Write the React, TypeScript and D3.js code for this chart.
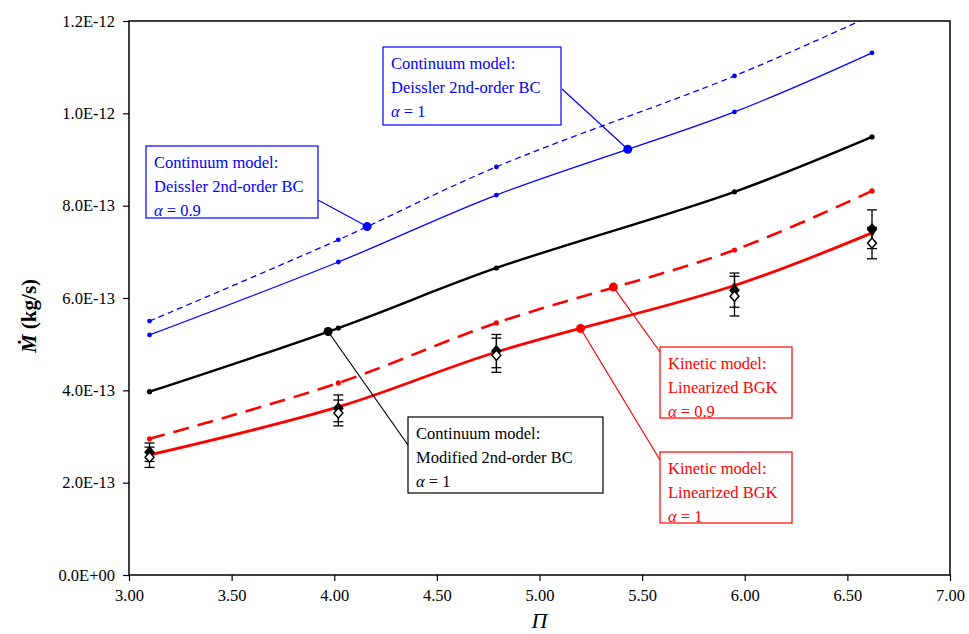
import React from 'react';
import * as d3 from 'd3';

// pressure ratio (x) for all series
const piValues = [3.1, 4.02, 4.79, 5.95, 6.62];

// mass flow rate, in units of 1e-13 kg/s
const deissler1 = [5.2, 6.78, 8.23, 10.03, 11.31];
const deissler09 = [5.5, 7.26, 8.84, 10.81, 12.12];
const modified1 = [3.97, 5.35, 6.65, 8.3, 9.49];
const kinetic09 = [2.95, 4.16, 5.46, 7.04, 8.32];
const kinetic1 = [2.6, 3.64, 4.83, 6.27, 7.41];

// experimental points with error bars
const expFilled = [2.66, 3.61, 4.85, 6.17, 7.49];
const expFilledErr = [0.2, 0.29, 0.36, 0.37, 0.42];
const expOpen = [2.55, 3.51, 4.76, 6.04, 7.19];
const expOpenErr = [0.22, 0.28, 0.37, 0.43, 0.34];

const xTicks = [3.0, 3.5, 4.0, 4.5, 5.0, 5.5, 6.0, 6.5, 7.0];
const yTicks = [0, 2, 4, 6, 8, 10, 12];
const yTickLabels = ['0.0E+00', '2.0E-13', '4.0E-13', '6.0E-13', '8.0E-13', '1.0E-12', '1.2E-12'];

const W = 969;
const H = 634;
const margin = { top: 21, right: 19, bottom: 59, left: 129 };

const serif = '"Liberation Serif", "DejaVu Serif", serif';

const App = () => {
  const ref = React.useRef<SVGSVGElement>(null);

  React.useEffect(() => {
    const svg = d3.select(ref.current);
    svg.selectAll('*').remove();

    const x = d3.scaleLinear().domain([3, 7]).range([margin.left, W - margin.right]);
    const y = d3.scaleLinear().domain([0, 12]).range([H - margin.bottom, margin.top]);

    svg.append('defs').append('clipPath').attr('id', 'plot-clip')
      .append('rect')
      .attr('x', margin.left).attr('y', margin.top)
      .attr('width', W - margin.left - margin.right)
      .attr('height', H - margin.top - margin.bottom);

    // axes
    const xAxis = svg.append('g')
      .attr('transform', `translate(0,${H - margin.bottom})`)
      .call(d3.axisBottom(x).tickValues(xTicks).tickSize(6).tickFormat(d3.format('.2f')));
    xAxis.selectAll('text').attr('font-family', serif).attr('font-size', 16.5).attr('fill', '#000').attr('dy', '1.05em');
    const yAxis = svg.append('g')
      .attr('transform', `translate(${margin.left},0)`)
      .call(d3.axisLeft(y).tickValues(yTicks).tickSize(6).tickFormat((d, i) => yTickLabels[i]));
    yAxis.selectAll('text').attr('font-family', serif).attr('font-size', 16.5).attr('fill', '#000').attr('x', -14);
    svg.selectAll('.domain').remove();
    svg.selectAll('.tick line').attr('stroke', '#000').attr('stroke-width', 1.2);

    svg.append('rect')
      .attr('x', margin.left).attr('y', margin.top)
      .attr('width', W - margin.left - margin.right)
      .attr('height', H - margin.top - margin.bottom)
      .attr('fill', 'none').attr('stroke', '#000').attr('stroke-width', 1.5);

    // axis titles
    svg.append('text')
      .attr('x', x(5)).attr('y', 628)
      .attr('text-anchor', 'middle')
      .attr('font-family', serif).attr('font-style', 'italic').attr('font-size', 22)
      .text('Π');

    const yTitle = svg.append('text')
      .attr('transform', 'translate(36,316) rotate(-90)')
      .attr('text-anchor', 'middle')
      .attr('font-family', serif).attr('font-weight', 'bold').attr('font-size', 21);
    yTitle.append('tspan').attr('font-style', 'italic').text('Ṁ');
    yTitle.append('tspan').text(' (kg/s)');

    const plot = svg.append('g').attr('clip-path', 'url(#plot-clip)');

    const series = [
      { vals: deissler09, color: '#0000ff', width: 1.3, dash: '6,4', r: 2.4 },
      { vals: deissler1, color: '#0000ff', width: 1.3, dash: null, r: 2.4 },
      { vals: modified1, color: '#000000', width: 2.4, dash: null, r: 2.6 },
      { vals: kinetic09, color: '#ff0000', width: 2.6, dash: '16,9', r: 2.6 },
      { vals: kinetic1, color: '#ff0000', width: 2.8, dash: null, r: 2.6 },
    ];

    const line = d3.line<[number, number]>()
      .x(d => x(d[0]))
      .y(d => y(d[1]))
      .curve(d3.curveCatmullRom);

    series.forEach(s => {
      const pts = piValues.map((p, i) => [p, s.vals[i]] as [number, number]);
      plot.append('path')
        .attr('d', line(pts))
        .attr('fill', 'none')
        .attr('stroke', s.color)
        .attr('stroke-width', s.width)
        .attr('stroke-dasharray', s.dash);
      plot.selectAll(null)
        .data(pts.filter(d => d[1] <= 12))
        .enter().append('circle')
        .attr('cx', d => x(d[0]))
        .attr('cy', d => y(d[1]))
        .attr('r', s.r)
        .attr('fill', s.color);
    });

    // experimental data with error bars
    const drawExp = (vals: number[], errs: number[], filled: boolean) => {
      const g = svg.append('g');
      piValues.forEach((p, i) => {
        const cx = x(p);
        const y0 = y(vals[i] - errs[i]);
        const y1 = y(vals[i] + errs[i]);
        g.append('line').attr('x1', cx).attr('x2', cx).attr('y1', y0).attr('y2', y1)
          .attr('stroke', '#000').attr('stroke-width', 1.3);
        [y0, y1].forEach(yy => {
          g.append('line').attr('x1', cx - 5).attr('x2', cx + 5).attr('y1', yy).attr('y2', yy)
            .attr('stroke', '#000').attr('stroke-width', 1.3);
        });
      });
      g.selectAll(null)
        .data(piValues.map((p, i) => [p, vals[i]]))
        .enter().append('path')
        .attr('d', d3.symbol(d3.symbolDiamond2, 50)() as string)
        .attr('transform', d => `translate(${x(d[0])},${y(d[1])}) scale(1,1.15)`)
        .attr('fill', filled ? '#000' : '#fff')
        .attr('stroke', '#000')
        .attr('stroke-width', 1.4);
    };
    drawExp(expFilled, expFilledErr, true);
    drawExp(expOpen, expOpenErr, false);

    // callouts: anchor on a curve, box with text
    const interp = (vals: number[], p: number) => {
      const i = d3.bisectRight(piValues, p) - 1;
      const t = (p - piValues[i]) / (piValues[i + 1] - piValues[i]);
      return vals[i] + t * (vals[i + 1] - vals[i]);
    };

    const callouts = [
      { vals: deissler1, pi: 5.43, color: '#0000ff', box: [383, 47, 178, 78], end: [562, 89], lines: ['Continuum model:', 'Deissler 2nd-order BC', 'α = 1'] },
      { vals: deissler09, pi: 4.16, color: '#0000ff', box: [146, 146, 172, 72], end: [318, 200], lines: ['Continuum model:', 'Deissler 2nd-order BC', 'α = 0.9'] },
      { vals: modified1, pi: 3.97, color: '#000000', box: [408, 417, 195, 76], end: [408, 445], lines: ['Continuum model:', 'Modified 2nd-order BC', 'α = 1'] },
      { vals: kinetic09, pi: 5.36, color: '#ff0000', box: [660, 347, 132, 71], end: [660, 352], lines: ['Kinetic model:', 'Linearized BGK', 'α = 0.9'] },
      { vals: kinetic1, pi: 5.2, color: '#ff0000', box: [660, 452, 132, 71], end: [660, 460], lines: ['Kinetic model:', 'Linearized BGK', 'α = 1'] },
    ];

    callouts.forEach(c => {
      const ax = x(c.pi);
      const ay = y(interp(c.vals, c.pi));
      const [bx, by, bw, bh] = c.box;
      svg.append('rect')
        .attr('x', bx).attr('y', by).attr('width', bw).attr('height', bh)
        .attr('fill', '#fff').attr('stroke', c.color).attr('stroke-width', 1.2);
      svg.append('line')
        .attr('x1', ax).attr('y1', ay).attr('x2', c.end[0]).attr('y2', c.end[1])
        .attr('stroke', c.color).attr('stroke-width', 1.2);
      svg.append('circle').attr('cx', ax).attr('cy', ay).attr('r', 4.5).attr('fill', c.color);
      c.lines.forEach((t, i) => {
        const txt = svg.append('text')
          .attr('x', bx + 8).attr('y', by + 22 + i * 24)
          .attr('font-family', serif).attr('font-size', 16.5)
          .attr('fill', c.color);
        if (t.startsWith('α')) {
          txt.append('tspan').attr('font-style', 'italic').text('α');
          txt.append('tspan').text(t.slice(1));
        } else {
          txt.text(t);
        }
      });
    });
  }, []);

  return (
    <div style={{ position: 'absolute', left: 0, top: 0 }}>
      <svg ref={ref} width={W} height={H} style={{ display: 'block', background: '#fff' }}></svg>
    </div>
  );
};

export default App;
